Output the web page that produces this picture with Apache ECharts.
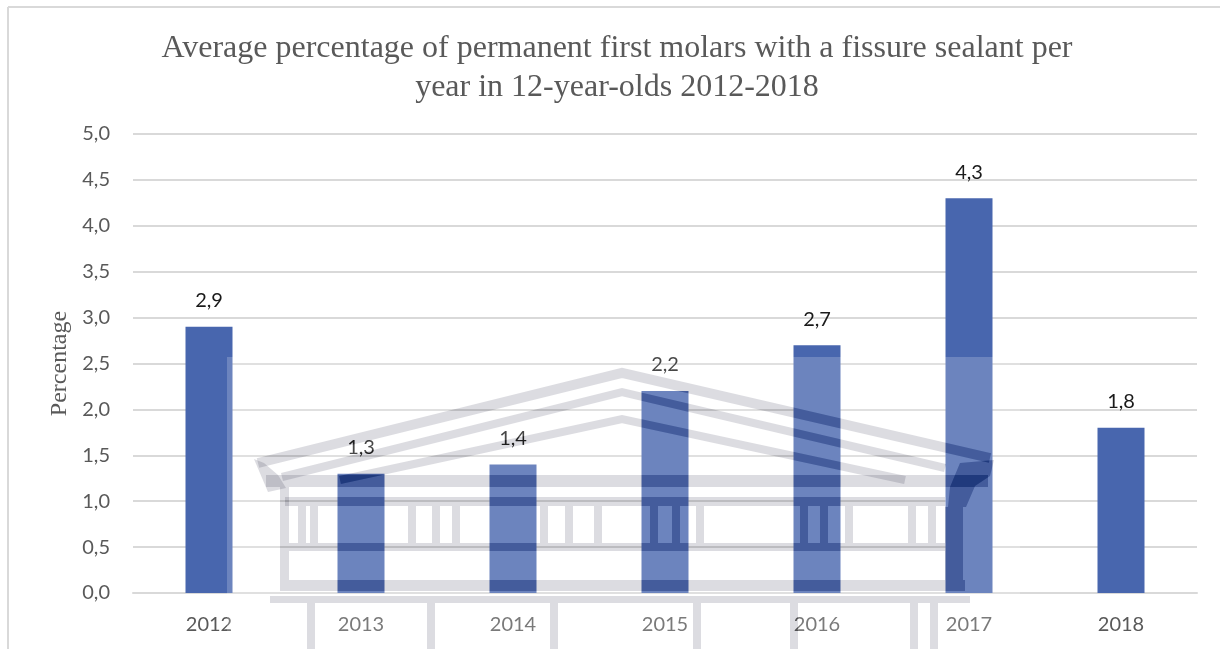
<!DOCTYPE html>
<html>
<head>
<meta charset="utf-8">
<script src="https://cdn.jsdelivr.net/npm/echarts@6/dist/echarts.min.js"></script>
<style>
  html, body { margin: 0; padding: 0; background: #ffffff; }
  #chart { width: 1220px; height: 649px; }
</style>
</head>
<body>
<div id="chart"></div>
<script>
// Survey years and average percentage of sealed first molars per year
const years = ['2012', '2013', '2014', '2015', '2016', '2017', '2018'];
const sealantPct = [2.9, 1.3, 1.4, 2.2, 2.7, 4.3, 1.8];

const titleLines = [
  'Average percentage of permanent first molars with a fissure sealant per',
  'year in 12-year-olds 2012-2018'
];
const yAxisTitle = 'Percentage';

const fmtComma = v => Number(v).toFixed(1).replace('.', ',');

const BAR = '#4866ae';
const GRID = '#d9d9d9';
const TEXT = '#595959';

// Faint building emblem printed over the lower part of the plot.
// Each shape is drawn twice: a colour-burn pass (darkens the bars,
// leaves white paper untouched) and a light multiply pass (grey on paper).
const emblemShapes = [];
function rect(x, y, w, h) { emblemShapes.push({ type: 'rect', shape: { x, y, width: w, height: h } }); }
function poly(points) { emblemShapes.push({ type: 'polygon', shape: { points } }); }
function band(points, w) { emblemShapes.push({ type: 'polyline', shape: { points }, lw: w }); }

band([[258, 463], [622, 373], [990, 458]], 10);
band([[282, 477], [622, 392], [945, 468]], 8);
band([[340, 480], [622, 419], [905, 480]], 8);
poly([[960, 463], [994, 460], [990, 476], [975, 486], [966, 507], [948, 507], [950, 487]]);
poly([[254, 459], [264, 463], [278, 475], [286, 488], [268, 492]]);
rect(266, 475, 722, 12);
rect(285, 497, 660, 9);
[298, 310, 408, 432, 452, 540, 565, 594, 650, 672, 696, 800, 820, 845, 908, 928]
  .forEach(x => rect(x, 506, 8, 37));
rect(289, 543, 656, 8);
rect(280, 487, 9, 93);
rect(945, 507, 18, 73);
rect(280, 580, 685, 11);
rect(270, 596, 700, 7);
[307, 427, 550, 693, 790, 910, 930].forEach(x => rect(x, 603, 8, 46));

function emblemLayer(color, blend, z) {
  return emblemShapes.map(s => {
    const style = s.type === 'polyline'
      ? { stroke: color, lineWidth: s.lw, fill: null, lineJoin: 'miter', blend }
      : { fill: color, blend };
    return { type: s.type, shape: s.shape, style, z, silent: true };
  });
}

const emblem = [
  { type: 'rect', shape: { x: 227, y: 357, width: 793, height: 292 },
    style: { fill: 'rgba(255,255,255,0.2)' }, z: 100, silent: true },
  ...emblemLayer('rgb(212,212,212)', 'color-burn', 101),
  ...emblemLayer('#dcdce1', 'multiply', 102)
];

const chart = echarts.init(document.getElementById('chart'), null, { renderer: 'canvas' });

chart.setOption({
  backgroundColor: '#ffffff',
  animation: false,
  title: {
    text: titleLines.join('\n'),
    left: 612,
    top: 24,
    textAlign: 'center',
    textStyle: {
      fontFamily: 'Liberation Serif',
      fontWeight: 'normal',
      fontSize: 32,
      lineHeight: 39,
      color: TEXT
    }
  },
  grid: { left: 133, right: 23, top: 134, bottom: 56, containLabel: false },
  xAxis: {
    type: 'category',
    data: years,
    axisLine: { show: true, lineStyle: { color: GRID, width: 2 } },
    axisTick: { show: false },
    axisLabel: { color: TEXT, fontFamily: 'Lato', fontSize: 20, margin: 22 }
  },
  yAxis: {
    type: 'value',
    min: 0,
    max: 5,
    interval: 0.5,
    name: yAxisTitle,
    nameLocation: 'middle',
    nameGap: 61,
    nameTextStyle: { fontFamily: 'Liberation Serif', fontSize: 24, color: TEXT },
    axisLine: { show: false },
    axisTick: { show: false },
    splitLine: { lineStyle: { color: GRID, width: 2 } },
    axisLabel: { color: TEXT, fontFamily: 'Lato', fontSize: 20, margin: 23, formatter: fmtComma }
  },
  series: [{
    type: 'bar',
    data: sealantPct,
    barWidth: 47,
    itemStyle: { color: BAR },
    label: {
      show: true,
      position: 'top',
      distance: 16,
      color: '#1a1a1a',
      fontFamily: 'Lato',
      fontSize: 20,
      formatter: p => fmtComma(p.value)
    },
    z: 2
  }],
  graphic: [
    // outer frame (top and left edges)
    { type: 'line', shape: { x1: 8, y1: 7, x2: 1220, y2: 7 },
      style: { stroke: GRID, lineWidth: 2 }, silent: true },
    { type: 'line', shape: { x1: 8, y1: 7, x2: 8, y2: 649 },
      style: { stroke: GRID, lineWidth: 2 }, silent: true },
    ...emblem
  ]
});
</script>
</body>
</html>
